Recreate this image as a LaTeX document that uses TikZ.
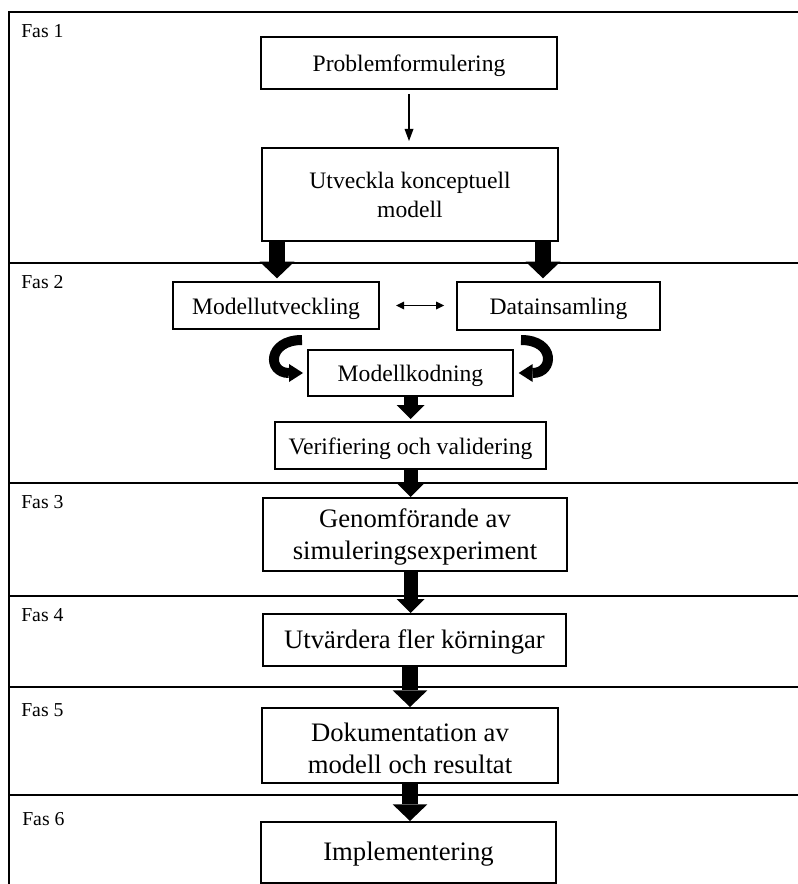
\documentclass[tikz,border=0pt]{standalone}
\usepackage{fontspec}
\setmainfont{Liberation Serif}
\usetikzlibrary{arrows.meta}

\begin{document}
\begin{tikzpicture}[x=0.75pt,y=0.75pt,yscale=-1,xscale=1,
    frame/.style={line width=1.5pt},
    box/.style={draw, line width=1.5pt, inner sep=0pt, align=center},
    topfont/.style={font=\fontsize{17.7}{21.75}\selectfont},
    lowfont/.style={font=\fontsize{20}{24}\selectfont},
    topbox/.style={box, topfont, text height=13pt, text depth=0pt},
    lowbox/.style={box, lowfont, text height=12.3pt, text depth=0pt},
    faslabel/.style={anchor=base west, inner sep=0pt, font=\fontsize{14.8}{17}\selectfont},
    thinarrow/.style={line width=1pt, -{Triangle[length=9pt,width=6.75pt,line width=0pt]}},
    dblarrow/.style={line width=1pt, {Triangle[length=6pt,width=6pt,line width=0pt]}-{Triangle[length=6pt,width=6pt,line width=0pt]}},
    bigarrow/.style={line width=12.5pt, -{Triangle[length=12.5pt,width=26pt,line width=0pt]}},
    midarrow/.style={line width=10.5pt, -{Triangle[length=10.5pt,width=21pt,line width=0pt]}},
    curvearrow/.style={line width=7.5pt, -{Triangle[length=10.5pt,width=13.5pt,line width=0pt]}}
  ]
    \useasboundingbox (0,0) rectangle (798,884);
    %Straight Lines (frame and phase borders)
    \draw [frame] (798,12) -- (9,12) -- (9,884) ;
    \draw [frame] (9,263) -- (798,263) ;
    \draw [frame] (9,483) -- (798,483) ;
    \draw [frame] (9,596) -- (798,596) ;
    \draw [frame] (9,687) -- (798,687) ;
    \draw [frame] (9,795) -- (798,795) ;
    % Text Node
    \draw (21,37.5) node [faslabel] (fas1) {Fas 1};
    % Text Node
    \draw (21,288) node [faslabel] (fas2) {Fas 2};
    % Text Node
    \draw (21,508) node [faslabel] (fas3) {Fas 3};
    % Text Node
    \draw (21,621) node [faslabel] (fas4) {Fas 4};
    % Text Node
    \draw (21,716) node [faslabel] (fas5) {Fas 5};
    % Text Node
    \draw (22,825) node [faslabel] (fas6) {Fas 6};

    %Shape: Rectangle
    \draw (409,63) node [topbox, minimum width=222pt, minimum height=39pt] (probl) {Problemformulering};
    %Shape: Rectangle
    \draw (410,194.5) node [box, topfont, minimum width=222pt, minimum height=69.75pt] (utv) {Utveckla konceptuell\\modell};
    %Shape: Rectangle
    \draw (276,305.5) node [topbox, minimum width=154.5pt, minimum height=35.25pt] (modutv) {Modellutveckling};
    %Shape: Rectangle
    \draw (558.5,306) node [topbox, minimum width=152.25pt, minimum height=36pt] (data) {Datainsamling};
    %Shape: Rectangle
    \draw (410.5,373) node [topbox, minimum width=153.75pt, minimum height=34.5pt] (modkod) {Modellkodning};
    %Shape: Rectangle
    \draw (410.5,445.5) node [topbox, minimum width=203.25pt, minimum height=35.25pt] (verif) {Verifiering och validering};
    %Shape: Rectangle
    \draw (415,534.5) node [box, lowfont, minimum width=228pt, minimum height=54.75pt] (genom) {\rule{0pt}{18pt}Genomförande av\\simuleringsexperiment};
    %Shape: Rectangle
    \draw (414.5,640) node [lowbox, minimum width=227.25pt, minimum height=39pt] (utvard) {Utvärdera fler körningar};
    %Shape: Rectangle
    \draw (410,745.5) node [box, lowfont, minimum width=222pt, minimum height=56.25pt] (dokum) {\rule{0pt}{18pt}Dokumentation av\\modell och resultat};
    %Shape: Rectangle
    \draw (408.5,852.5) node [lowbox, minimum width=221.25pt, minimum height=45.75pt] (impl) {Implementering};

    %Straight Lines
    \draw [thinarrow, shorten <=3pt, shorten >=4.5pt] (probl.south) -- (probl.south |- utv.north) ;
    \draw [bigarrow, shorten >=2pt] ([xshift=-99.75pt]utv.south) -- ([xshift=-99.75pt]utv.south |- modutv.north) ;
    \draw [bigarrow, shorten >=2pt] ([xshift=99.75pt]utv.south) -- ([xshift=99.75pt]utv.south |- data.north) ;
    \draw [dblarrow, shorten <=12pt, shorten >=9pt] (modutv.east) -- (modutv.east -| data.west) ;
    %Curve Lines
    \draw [curvearrow, shorten >=3pt] ([xshift=-3.75pt,yshift=-6.75pt]modkod.north west) to [out=180, in=180, out distance=26pt, in distance=30pt] (modkod.west) ;
    \draw [curvearrow, shorten >=3.5pt] ([xshift=5.25pt,yshift=-6.75pt]modkod.north east) to [out=0, in=0, out distance=26pt, in distance=30pt] (modkod.east) ;
    %Straight Lines
    \draw [midarrow, shorten >=1.5pt] (modkod.south) -- (modkod.south |- verif.north) ;
    \draw [midarrow] (verif.south) -- (verif.south |- genom.north) ;
    \draw [midarrow] (genom.south -| verif.south) -- (verif.south |- utvard.north) ;
    \draw [bigarrow] (utvard.south -| dokum.south) -- (dokum.north) ;
    \draw [bigarrow] (dokum.south) -- (dokum.south |- impl.north) ;
\end{tikzpicture}
\end{document}
